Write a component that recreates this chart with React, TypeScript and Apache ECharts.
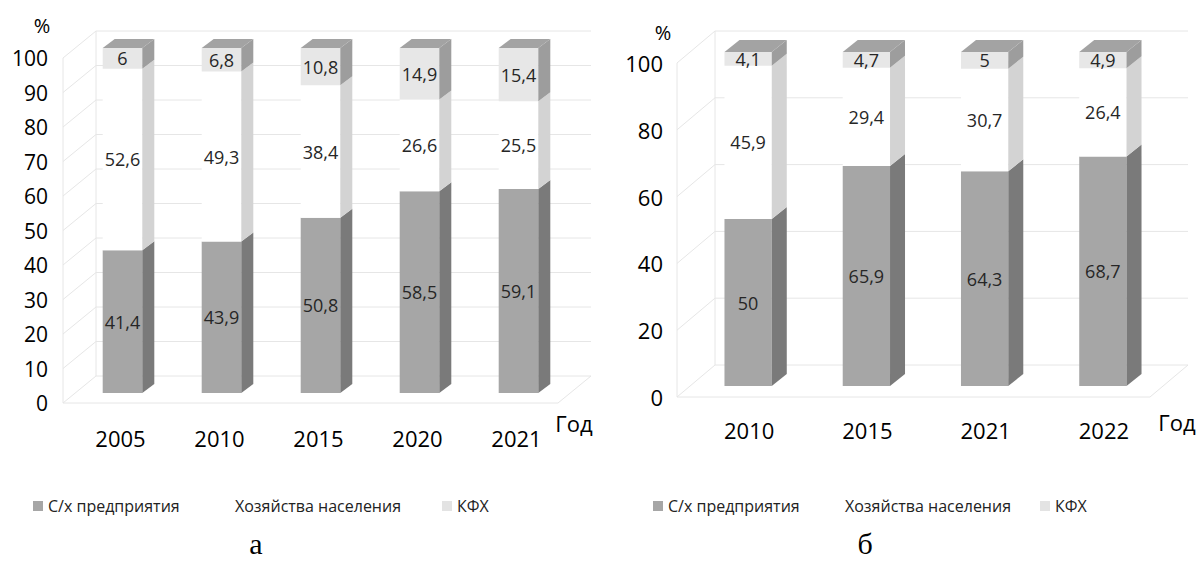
import React, { useEffect, useRef } from "react";
import * as echarts from "echarts";

const CATS_A = ["2005", "2010", "2015", "2020", "2021"];
const SX_A = [41.4, 43.9, 50.8, 58.5, 59.1];
const HH_A = [52.6, 49.3, 38.4, 26.6, 25.5];
const KFH_A = [6, 6.8, 10.8, 14.9, 15.4];

const CATS_B = ["2010", "2015", "2021", "2022"];
const SX_B = [50, 65.9, 64.3, 68.7];
const HH_B = [45.9, 29.4, 30.7, 26.4];
const KFH_B = [4.1, 4.7, 5, 4.9];

const TICKS_A = [0, 10, 20, 30, 40, 50, 60, 70, 80, 90, 100];
const TICKS_B = [0, 20, 40, 60, 80, 100];

const NAMES = ["С/х предприятия", "Хозяйства населения", "КФХ"];

const FRONT = ["#a6a6a6", "#ffffff", "#e7e7e7"];
const SIDE = ["#7a7a7a", "#d3d3d3", "#9d9d9d"];
const LEGEND_ICON = ["#a6a6a6", "#ffffff", "#e3e3e3"];
const TOPC = "#a3a3a3";
const WALL = "#e6e6e6";
const FONT = "'Open Sans', sans-serif";

type Geo = {
  frac: number;
  offX: number;
  offY: number;
  dx: number;
  dy: number;
  bx: number;
  by: number;
};

const GEO_A: Geo = { frac: 0.4, offX: 10, offY: -10, dx: 12, dy: 9, bx: 33, by: -27 };
const GEO_B: Geo = { frac: 0.4, offX: 12, offY: -11, dx: 15, dy: 12, bx: 38, by: -32 };

const fmt = (v: number) => String(v).replace(".", ",");

function barSeries(gi: number, stacks: number[][], geo: Geo) {
  return stacks.map((vals, si) => {
    const data = vals.map((v, ci) => {
      let base = 0;
      for (let k = 0; k < si; k++) base += stacks[k][ci];
      return [ci, base, base + v, v];
    });
    return {
      type: "custom",
      name: NAMES[si],
      xAxisIndex: gi,
      yAxisIndex: gi,
      clip: false,
      z: 5 + si,
      itemStyle: { color: LEGEND_ICON[si] },
      encode: { x: 0, y: [1, 2] },
      data,
      renderItem: (params: any, api: any) => {
        const ci = api.value(0);
        const b = api.value(1);
        const t = api.value(2);
        const val = api.value(3);
        const p0 = api.coord([ci, b]);
        const p1 = api.coord([ci, t]);
        const band = api.size([1, 0])[0];
        const w = band * geo.frac;
        const x0 = p0[0] - w / 2 + geo.offX;
        const y0 = p0[1] + geo.offY;
        const y1 = p1[1] + geo.offY;
        const children: any[] = [
          {
            type: "rect",
            shape: { x: x0, y: y1, width: w, height: y0 - y1 },
            style: { fill: FRONT[si] },
          },
          {
            type: "polygon",
            shape: {
              points: [
                [x0 + w, y1],
                [x0 + w + geo.dx, y1 - geo.dy],
                [x0 + w + geo.dx, y0 - geo.dy],
                [x0 + w, y0],
              ],
            },
            style: { fill: SIDE[si] },
          },
        ];
        if (si === stacks.length - 1) {
          children.push({
            type: "polygon",
            shape: {
              points: [
                [x0, y1],
                [x0 + geo.dx, y1 - geo.dy],
                [x0 + w + geo.dx, y1 - geo.dy],
                [x0 + w, y1],
              ],
            },
            style: { fill: TOPC },
          });
        }
        children.push({
          type: "text",
          x: x0 + w / 2,
          y: (y0 + y1) / 2,
          z2: 10,
          style: {
            text: fmt(val),
            align: "center",
            verticalAlign: "middle",
            font: `18px ${FONT}`,
            fill: "#262626",
          },
        });
        return { type: "group", children };
      },
    };
  });
}

function wallSeries(gi: number, ticks: number[], geo: Geo) {
  return {
    type: "custom",
    name: "wall" + gi,
    xAxisIndex: gi,
    yAxisIndex: gi,
    clip: false,
    silent: true,
    z: 1,
    encode: { x: 0, y: 1 },
    data: ticks.map((v) => [0, v]),
    renderItem: (params: any, api: any) => {
      const cs = params.coordSys;
      const v = api.value(1);
      const y = api.coord([0, v])[1];
      const L = cs.x;
      const R = cs.x + cs.width;
      const st = { stroke: WALL, lineWidth: 1, fill: null };
      const children: any[] = [
        { type: "line", shape: { x1: L, y1: y, x2: L + geo.bx, y2: y + geo.by }, style: st },
        { type: "line", shape: { x1: L + geo.bx, y1: y + geo.by, x2: R + geo.bx, y2: y + geo.by }, style: st },
      ];
      if (v === 0) {
        const top = cs.y;
        children.push(
          { type: "line", shape: { x1: L, y1: y, x2: R, y2: y }, style: st },
          { type: "line", shape: { x1: R, y1: y, x2: R + geo.bx, y2: y + geo.by }, style: st },
          { type: "line", shape: { x1: L, y1: y, x2: L, y2: top }, style: st },
          { type: "line", shape: { x1: L + geo.bx, y1: y + geo.by, x2: L + geo.bx, y2: top + geo.by }, style: st }
        );
      }
      return { type: "group", children };
    },
  };
}

const LEGEND_LEFT_A = [28, 215, 437];
const LEGEND_LEFT_B = [648, 825, 1035];

function legends(lefts: number[]) {
  return lefts.map((l, i) => ({
    data: [NAMES[i]],
    left: l,
    top: 493,
    icon: "rect",
    itemWidth: 10,
    itemHeight: 10,
    selectedMode: false,
    textStyle: { fontSize: 16, color: "#222", fontFamily: FONT },
  }));
}

export default function App() {
  const ref = useRef<HTMLDivElement>(null);
  useEffect(() => {
    document.body.style.margin = "0";
    if (!ref.current) return;
    const chart = echarts.init(ref.current, null, { renderer: "svg" });
    const axisCommon = {
      axisLine: { show: false },
      axisTick: { show: false },
      splitLine: { show: false },
    };
    const option: any = {
      animation: false,
      backgroundColor: "#ffffff",
      textStyle: { fontFamily: FONT },
      grid: [
        { left: 63, width: 495, top: 58, height: 345 },
        { left: 677, width: 473, top: 63, height: 334 },
      ],
      xAxis: [
        {
          type: "category",
          gridIndex: 0,
          data: CATS_A,
          ...axisCommon,
          axisLabel: { fontSize: 22, color: "#000", margin: 24, padding: [0, 0, 0, 16], fontFamily: FONT },
        },
        {
          type: "category",
          gridIndex: 1,
          data: CATS_B,
          ...axisCommon,
          axisLabel: { fontSize: 22, color: "#000", margin: 22, padding: [0, 0, 0, 26], fontFamily: FONT },
        },
      ],
      yAxis: [
        {
          type: "value",
          gridIndex: 0,
          min: 0,
          max: 100,
          interval: 10,
          ...axisCommon,
          axisLabel: { fontSize: 21, color: "#000", margin: 15, fontFamily: FONT },
        },
        {
          type: "value",
          gridIndex: 1,
          min: 0,
          max: 100,
          interval: 20,
          ...axisCommon,
          axisLabel: { fontSize: 22, color: "#000", margin: 14, fontFamily: FONT },
        },
      ],
      legend: [...legends(LEGEND_LEFT_A), ...legends(LEGEND_LEFT_B)],
      graphic: [
        { type: "text", x: 42, y: 25, style: { text: "%", font: `20px ${FONT}`, fill: "#000", align: "center", verticalAlign: "middle" } },
        { type: "text", x: 663, y: 32, style: { text: "%", font: `20px ${FONT}`, fill: "#000", align: "center", verticalAlign: "middle" } },
        { type: "text", x: 574, y: 423, style: { text: "Год", font: `22px ${FONT}`, fill: "#000", align: "center", verticalAlign: "middle" } },
        { type: "text", x: 1177, y: 422, style: { text: "Год", font: `22px ${FONT}`, fill: "#000", align: "center", verticalAlign: "middle" } },
        { type: "text", x: 256, y: 543, style: { text: "а", font: `30px 'Liberation Serif', serif`, fill: "#000", align: "center", verticalAlign: "middle" } },
        { type: "text", x: 865, y: 543, style: { text: "б", font: `30px 'Liberation Serif', serif`, fill: "#000", align: "center", verticalAlign: "middle" } },
      ],
      series: [
        wallSeries(0, TICKS_A, GEO_A),
        wallSeries(1, TICKS_B, GEO_B),
        ...barSeries(0, [SX_A, HH_A, KFH_A], GEO_A),
        ...barSeries(1, [SX_B, HH_B, KFH_B], GEO_B),
      ],
    };
    chart.setOption(option);
    return () => chart.dispose();
  }, []);
  return <div ref={ref} style={{ width: 1199, height: 563 }} />;
}
